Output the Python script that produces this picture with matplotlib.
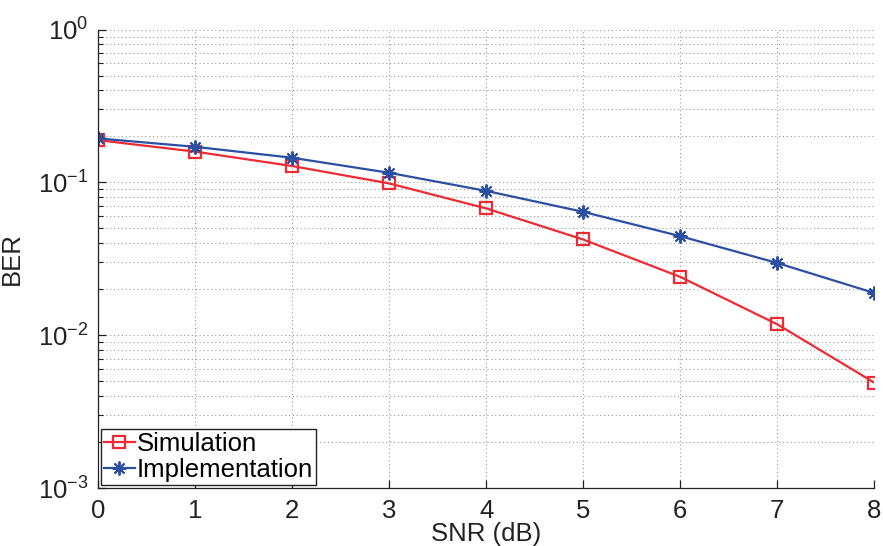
import numpy as np
import matplotlib
matplotlib.use("Agg")
import matplotlib.pyplot as plt
from matplotlib.ticker import LogLocator, NullFormatter, FixedLocator

plt.rcParams['font.family'] = ['Liberation Sans', 'DejaVu Sans']
plt.rcParams['mathtext.fontset'] = 'custom'
plt.rcParams['mathtext.rm'] = 'Liberation Sans'
plt.rcParams['mathtext.it'] = 'Liberation Sans:italic'
plt.rcParams['mathtext.bf'] = 'Liberation Sans:bold'

snr_db = [0, 1, 2, 3, 4, 5, 6, 7, 8]
ber_simulation = [0.189, 0.159, 0.128, 0.0985, 0.0676, 0.0423, 0.0241, 0.0118, 0.0049]
ber_implementation = [0.194, 0.171, 0.145, 0.1156, 0.088, 0.0642, 0.0445, 0.0297, 0.0189]

red = '#EE2A33'
blue = '#2B4FA3'
ink = '#222222'
fs = 18.5

fig = plt.figure(figsize=(8.83, 5.46), dpi=100)
ax = fig.add_axes([0.111, 0.1062, 0.879, 0.8396])

ax.semilogy(snr_db, ber_simulation, color=red, lw=1.6, marker='s', ms=8,
            mfc='none', mec=red, mew=1.6, label='Simulation')
ax.semilogy(snr_db, ber_implementation, color=blue, lw=1.6, marker=(8, 2, 0), ms=10,
            mec=blue, mew=1.4, label='Implementation')

ax.set_xlim(0, 8)
ax.set_ylim(1e-3, 1)
ax.xaxis.set_major_locator(FixedLocator(snr_db))
ax.yaxis.set_major_locator(LogLocator(base=10, numticks=10))
ax.yaxis.set_minor_locator(LogLocator(base=10, subs=np.arange(2, 10), numticks=20))
ax.yaxis.set_minor_formatter(NullFormatter())

ax.grid(True, which='major', axis='both', linestyle=(0, (1, 2.5)), color='#9a9a9a', lw=0.8)
ax.grid(True, which='minor', axis='y', linestyle=(0, (1, 2.5)), color='#9a9a9a', lw=0.8)

for side in ('top', 'right'):
    ax.spines[side].set_visible(False)
for side in ('left', 'bottom'):
    ax.spines[side].set_color(ink)
    ax.spines[side].set_linewidth(0.9)

ax.tick_params(axis='both', which='major', direction='in', length=6, width=0.9,
               labelsize=fs, colors=ink)
ax.tick_params(axis='x', which='major', pad=8)
ax.tick_params(axis='y', which='major', pad=7)
ax.tick_params(axis='y', which='minor', direction='in', length=3.5, width=0.8, colors=ink)
ax.tick_params(axis='x', which='minor', bottom=False)

ax.set_xlabel('SNR (dB)', fontsize=fs, color=ink, labelpad=-1)
ax.set_ylabel('BER', fontsize=fs, color=ink, labelpad=10)

leg = ax.legend(loc='lower left', bbox_to_anchor=(0.004, 0.0065), fontsize=fs,
                frameon=True, fancybox=False, framealpha=1, edgecolor=ink,
                handlelength=1.2, handletextpad=0.1, borderpad=0.1, labelspacing=0.1,
                borderaxespad=0)
leg.get_frame().set_linewidth(1.0)

fig.savefig('out.png', dpi=100)
